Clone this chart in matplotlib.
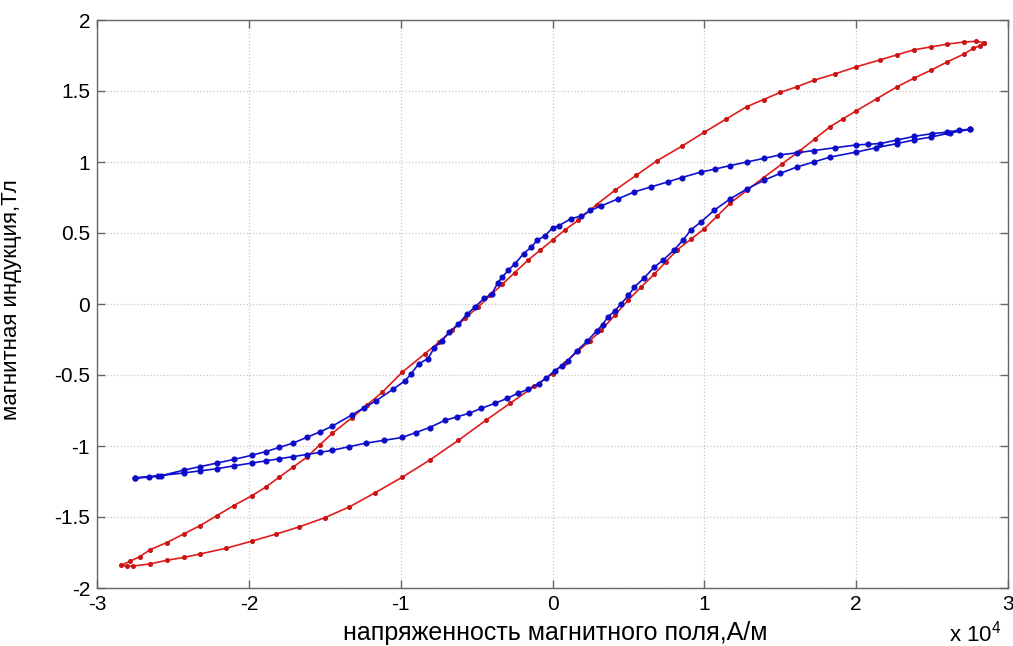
import numpy as np
import matplotlib
matplotlib.use("Agg")
import matplotlib.pyplot as plt

plt.rcParams['font.family'] = ['Liberation Sans', 'DejaVu Sans']
plt.rcParams['mathtext.fontset'] = 'custom'
plt.rcParams['mathtext.rm'] = 'Liberation Sans'
plt.rcParams['mathtext.it'] = 'Liberation Sans'

# Red loop (model), H in units of 1e4 A/m, B in T
# descending branch, from right tip to left tip
red_h_up = [2.84, 2.79, 2.71, 2.60, 2.49, 2.38, 2.27, 2.16, 2.00, 1.86, 1.72, 1.61,
            1.50, 1.39, 1.28, 1.14, 1.00, 0.85, 0.69, 0.55, 0.41, 0.29, 0.17, 0.08,
            0.00, -0.08, -0.16, -0.25, -0.33, -0.41, -0.49, -0.575, -0.66, -0.75,
            -0.84, -0.99, -1.12, -1.22, -1.32, -1.45, -1.53, -1.62, -1.71, -1.80,
            -1.89, -1.98, -2.10, -2.21, -2.32, -2.43, -2.54, -2.65, -2.72, -2.78, -2.84]
red_b_up = [1.84, 1.85, 1.845, 1.83, 1.81, 1.79, 1.755, 1.72, 1.67, 1.62, 1.575, 1.53,
            1.49, 1.44, 1.39, 1.30, 1.21, 1.11, 1.01, 0.905, 0.80, 0.70, 0.59, 0.52,
            0.45, 0.38, 0.31, 0.22, 0.14, 0.06, -0.02, -0.10, -0.185, -0.27,
            -0.35, -0.48, -0.62, -0.71, -0.80, -0.91, -0.99, -1.08, -1.15, -1.22,
            -1.29, -1.35, -1.42, -1.49, -1.56, -1.62, -1.68, -1.73, -1.78, -1.81, -1.84]
# ascending branch, from left tip to right tip
red_h_lo = [-2.80, -2.76, -2.65, -2.54, -2.43, -2.32, -2.15, -1.98, -1.82, -1.67,
            -1.50, -1.34, -1.17, -0.99, -0.81, -0.62, -0.44, -0.28, -0.12, 0.00,
            0.08, 0.17, 0.245, 0.32, 0.41, 0.50, 0.585, 0.67, 0.745, 0.82, 0.91,
            1.00, 1.085, 1.17, 1.28, 1.39, 1.51, 1.63, 1.73, 1.83, 1.915, 2.00,
            2.135, 2.27, 2.38, 2.49, 2.60, 2.71, 2.77, 2.815, 2.84]
red_b_lo = [-1.845, -1.845, -1.83, -1.805, -1.785, -1.76, -1.72, -1.67, -1.62, -1.57,
            -1.505, -1.43, -1.33, -1.22, -1.10, -0.96, -0.82, -0.70, -0.58, -0.49,
            -0.415, -0.33, -0.26, -0.185, -0.08, 0.03, 0.12, 0.21, 0.295, 0.38, 0.455,
            0.53, 0.62, 0.71, 0.80, 0.89, 0.985, 1.08, 1.165, 1.25, 1.305, 1.36,
            1.445, 1.53, 1.59, 1.645, 1.705, 1.76, 1.80, 1.82, 1.84]

# Blue loop (measured)
blue_h_up = [2.75, 2.68, 2.60, 2.50, 2.38, 2.27, 2.16, 2.08, 2.00, 1.86, 1.72, 1.61,
             1.50, 1.39, 1.28, 1.17, 1.07, 0.98, 0.85, 0.76, 0.65, 0.54, 0.43, 0.32,
             0.25, 0.19, 0.12, 0.04, 0.00, -0.05, -0.10, -0.14, -0.19, -0.25, -0.29,
             -0.33, -0.36, -0.40, -0.45, -0.51, -0.56, -0.62, -0.68, -0.73, -0.78,
             -0.82, -0.88, -0.93, -0.97, -1.05, -1.16, -1.24, -1.32, -1.45, -1.53,
             -1.62, -1.71, -1.80, -1.89, -1.98, -2.10, -2.21, -2.32, -2.43, -2.58,
             -2.66, -2.75]
blue_b_up = [1.23, 1.225, 1.21, 1.20, 1.18, 1.155, 1.13, 1.125, 1.12, 1.10, 1.08, 1.065,
             1.05, 1.025, 1.00, 0.975, 0.95, 0.93, 0.89, 0.86, 0.825, 0.79, 0.74, 0.69,
             0.66, 0.62, 0.60, 0.55, 0.535, 0.48, 0.45, 0.40, 0.355, 0.28, 0.24,
             0.19, 0.15, 0.07, 0.04, -0.02, -0.07, -0.14, -0.20, -0.26, -0.31,
             -0.385, -0.42, -0.49, -0.54, -0.60, -0.68, -0.73, -0.78, -0.86, -0.90,
             -0.94, -0.98, -1.01, -1.04, -1.065, -1.095, -1.12, -1.145, -1.17, -1.21,
             -1.22, -1.225]
blue_h_lo = [-2.75, -2.60, -2.43, -2.32, -2.21, -2.10, -1.98, -1.89, -1.80, -1.71,
             -1.62, -1.53, -1.45, -1.34, -1.23, -1.11, -0.99, -0.90, -0.81, -0.71,
             -0.63, -0.55, -0.47, -0.38, -0.30, -0.23, -0.16, -0.09, -0.04, 0.015,
             0.06, 0.10, 0.16, 0.23, 0.29, 0.33, 0.365, 0.41, 0.45, 0.50, 0.54, 0.60,
             0.67, 0.73, 0.80, 0.86, 0.91, 0.98, 1.065, 1.17, 1.28, 1.39, 1.50, 1.61,
             1.72, 1.83, 2.00, 2.13, 2.27, 2.38, 2.49, 2.62, 2.75]
blue_b_lo = [-1.225, -1.21, -1.19, -1.175, -1.16, -1.14, -1.12, -1.105, -1.09, -1.075,
             -1.06, -1.045, -1.03, -1.005, -0.98, -0.96, -0.94, -0.905, -0.87, -0.82,
             -0.795, -0.77, -0.735, -0.70, -0.665, -0.63, -0.60, -0.56, -0.52, -0.47,
             -0.435, -0.40, -0.33, -0.26, -0.19, -0.145, -0.09, -0.05, 0.00, 0.06, 0.12, 0.18,
             0.26, 0.31, 0.38, 0.45, 0.52, 0.58, 0.66, 0.74, 0.81, 0.87, 0.92, 0.965,
             1.00, 1.035, 1.07, 1.10, 1.13, 1.155, 1.175, 1.205, 1.23]

x_ticks = [-3, -2, -1, 0, 1, 2, 3]
y_ticks = [-2, -1.5, -1, -0.5, 0, 0.5, 1, 1.5, 2]
y_tick_labels = ['-2', '-1.5', '-1', '-0.5', '0', '0.5', '1', '1.5', '2']

fig = plt.figure(figsize=(10.13, 6.46), dpi=100)
ax = fig.add_axes([97 / 1013, 1 - 588 / 646, 911 / 1013, 568 / 646])

red_h = np.array(red_h_up + red_h_lo) * 1e4
red_b = np.array(red_b_up + red_b_lo)
blue_h = np.array(blue_h_up + blue_h_lo) * 1e4
blue_b = np.array(blue_b_up + blue_b_lo)

ax.plot(red_h, red_b, color='#e01c1c', lw=1.2, marker='o', ms=2.6, mec='#c81414', mfc='#c81414')
ax.plot(blue_h, blue_b, color='#1010d0', lw=1.2, marker='o', ms=3.4, mec='#0c0cc8', mfc='#0c0cc8')

ax.set_xlim(-3e4, 3e4)
ax.set_ylim(-2, 2)
ax.set_xticks([t * 1e4 for t in x_ticks])
ax.set_xticklabels([str(t) for t in x_ticks])
ax.set_yticks(y_ticks)
ax.set_yticklabels(y_tick_labels)

ax.grid(True, color='#c8c8c8', linestyle=':', linewidth=0.9)
ax.tick_params(direction='in', length=6, width=1, color='#666666', top=True, right=True,
               labelsize=15, pad=5)
for s in ax.spines.values():
    s.set_color('#666666')
    s.set_linewidth(1)

ax.set_xlabel('напряженность магнитного поля,А/м', fontsize=18, va='top')
ax.xaxis.set_label_coords(0.503, -0.058)
ax.set_ylabel('магнитная индукция,Тл', fontsize=16)
ax.yaxis.set_label_coords(-0.082, 0.507)
fig.text(975 / 1013, 1 - 634 / 646, 'x 10$^{4}$', fontsize=16, ha='center', va='center')

fig.savefig('out.png', dpi=100, facecolor='white')
